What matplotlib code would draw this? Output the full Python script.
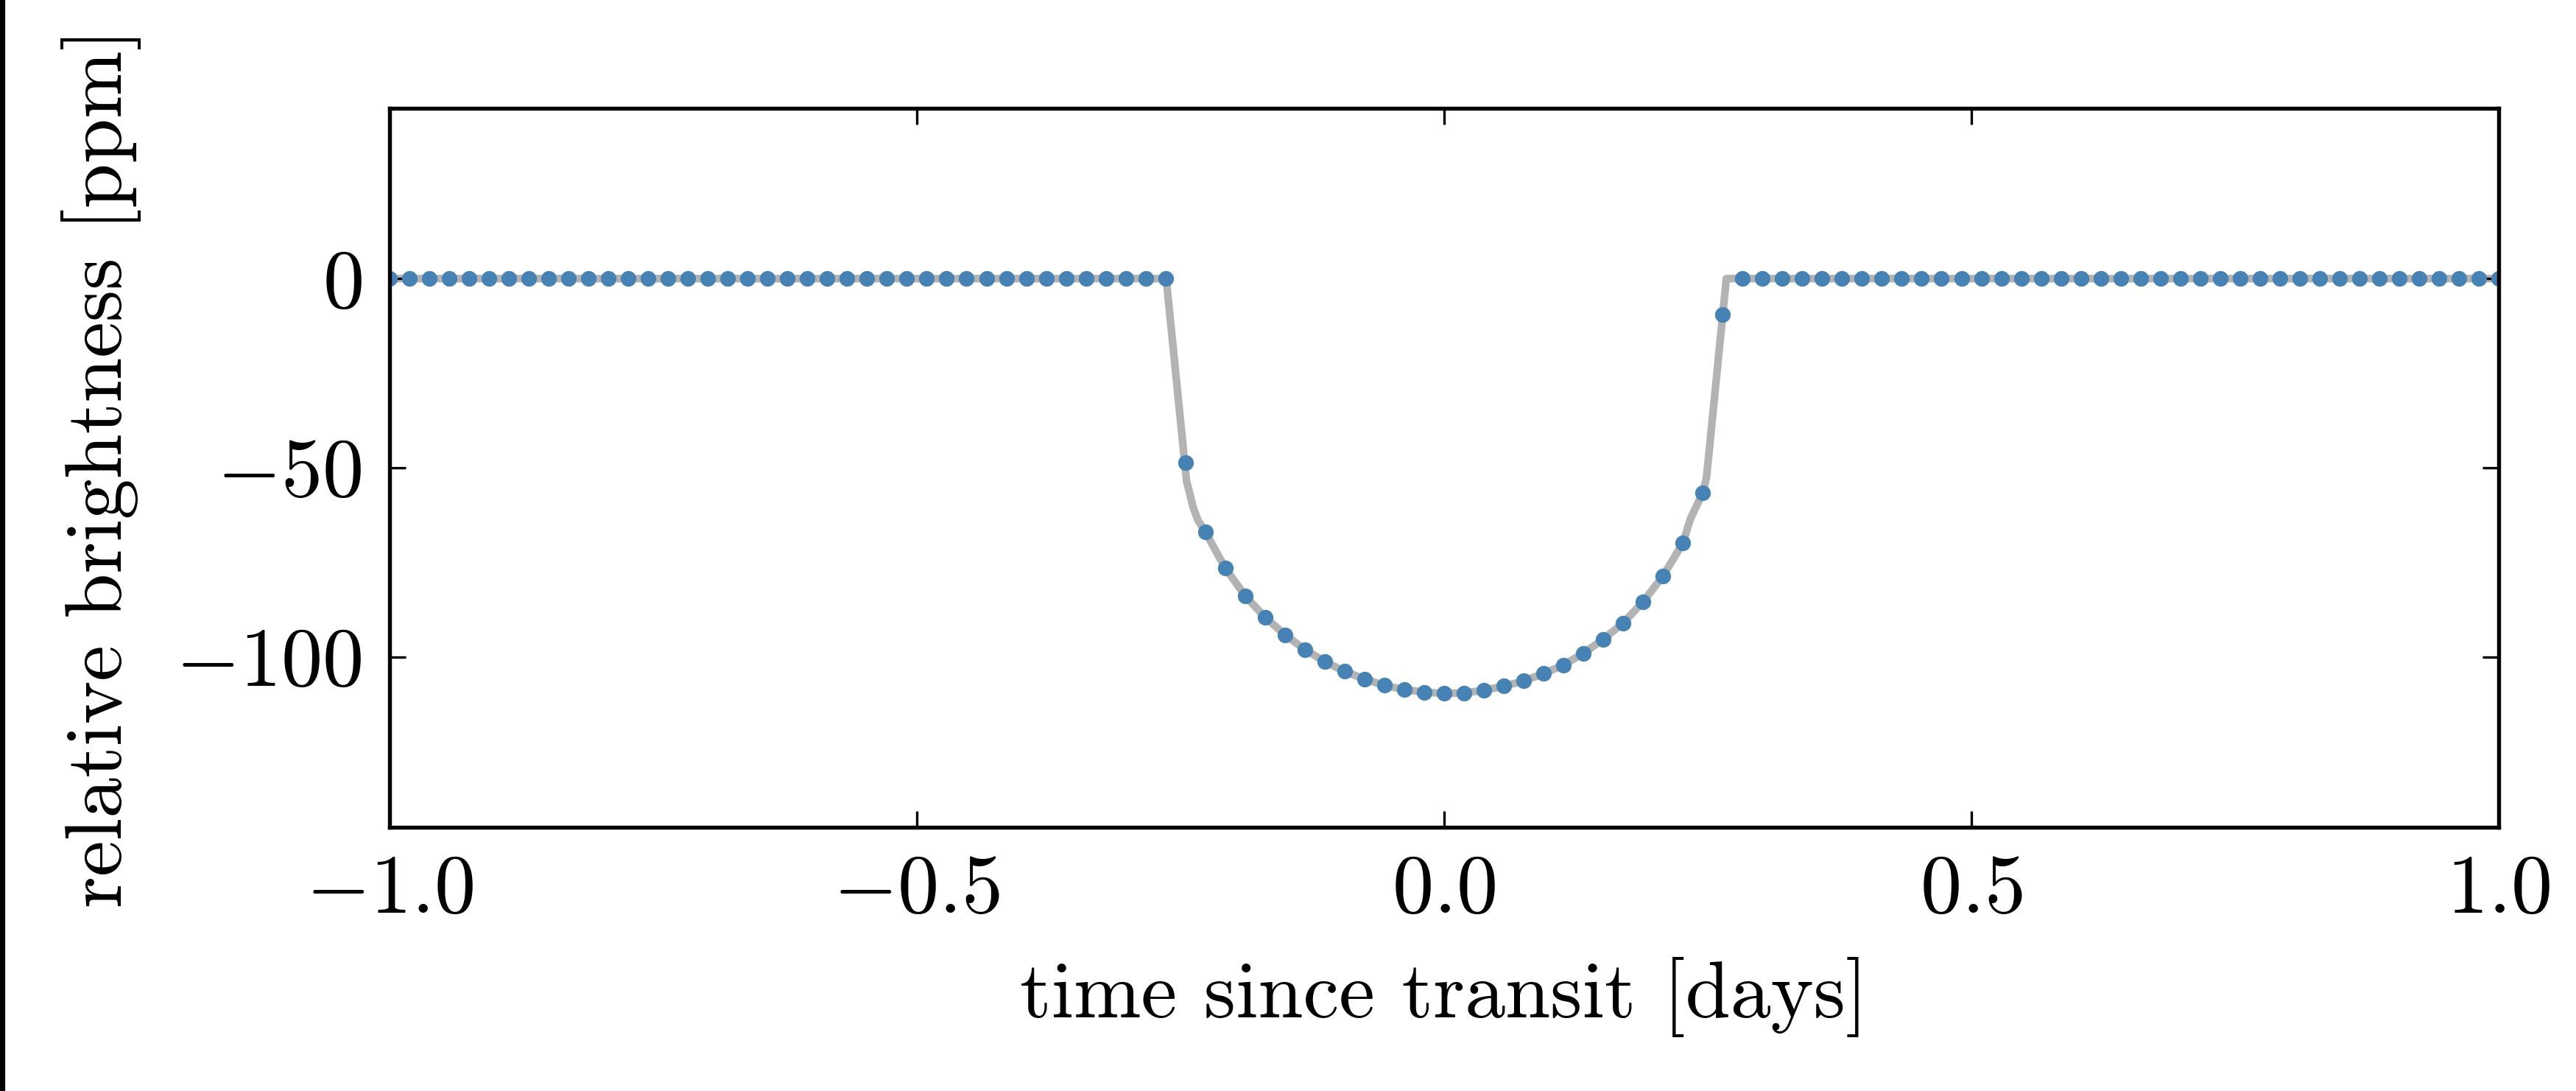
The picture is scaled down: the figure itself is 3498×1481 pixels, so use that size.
import numpy as np
import matplotlib
matplotlib.use("Agg")
from matplotlib import pyplot as plt
from matplotlib.patches import Rectangle

plt.rcParams["font.family"] = "cmr10"
plt.rcParams["mathtext.fontset"] = "cm"
plt.rcParams["axes.unicode_minus"] = True

# sampled light curve: 107 points over two days, flat outside the transit
time = np.linspace(-1.0, 1.0, 107)
transit = [-48.7, -66.9, -76.5, -83.8, -89.5, -94.1, -98.0, -101.2, -103.8,
           -105.8, -107.5, -108.6, -109.3, -109.6, -109.5, -108.8, -107.7,
           -106.3, -104.4, -102.1, -99.0, -95.3, -91.0, -85.4, -78.6, -69.9,
           -56.6, -9.5]
flux = [0.0] * 40 + transit + [0.0] * 39

# model curve (grey line)
model_time = [-1.0, -0.2635, -0.2442, -0.238, -0.2333, -0.2264, -0.2075, -0.1887,
              -0.1698, -0.1509, -0.1321, -0.1132, -0.0943, -0.0755, -0.0566,
              -0.0377, -0.0189, 0.0, 0.0189, 0.0377, 0.0566, 0.0755, 0.0943,
              0.1132, 0.1321, 0.1509, 0.1698, 0.1887, 0.2075, 0.2264, 0.2335,
              0.2453, 0.2488, 0.2676, 1.0]
model_flux = [0.0, 0.0, -53.5, -60.4, -63.9, -66.9, -76.5, -83.8, -89.5, -94.1,
              -98.0, -101.2, -103.8, -105.8, -107.5, -108.6, -109.3, -109.6,
              -109.5, -108.8, -107.7, -106.3, -104.4, -102.1, -99.0, -95.3,
              -91.0, -85.4, -78.6, -69.9, -63.5, -56.6, -52.6, 0.0, 0.0]

xticks = [-1.0, -0.5, 0.0, 0.5, 1.0]
xticklabels = [r"$-1.0$", r"$-0.5$", r"$0.0$", r"$0.5$", r"$1.0$"]
yticks = [0, -50, -100]
yticklabels = [r"$0$", r"$-50$", r"$-100$"]

fig = plt.figure(figsize=(3498 / 300, 1481 / 300), dpi=300)
ax = fig.add_axes([0.1512, 0.2417, 0.8188, 0.659])

ax.plot(model_time, model_flux, color="#b3b3b3", lw=2.5, zorder=1,
        solid_joinstyle="round")
ax.plot(time, flux, "o", color="#4682b4", ms=5.1, mew=0, zorder=2)

ax.set_xlim(-1.0, 1.0)
ax.set_ylim(-145, 45)
ax.set_xticks(xticks)
ax.set_xticklabels(xticklabels)
ax.set_yticks(yticks)
ax.set_yticklabels(yticklabels)
ax.tick_params(direction="in", top=True, right=True, length=5.3, width=0.8,
               labelsize=27, pad=9)
for s in ax.spines.values():
    s.set_linewidth(1.3)

ax.set_xlabel("time since transit [days]", fontsize=26.4, labelpad=9)
ax.set_ylabel("relative brightness [ppm]", fontsize=26.4, labelpad=11)

# dark strip on the left edge of the figure
fig.patches.append(Rectangle((0, 0), 5 / 3498, 1, transform=fig.transFigure,
                             color="black", zorder=10))

fig.savefig("out.png", dpi=300)
